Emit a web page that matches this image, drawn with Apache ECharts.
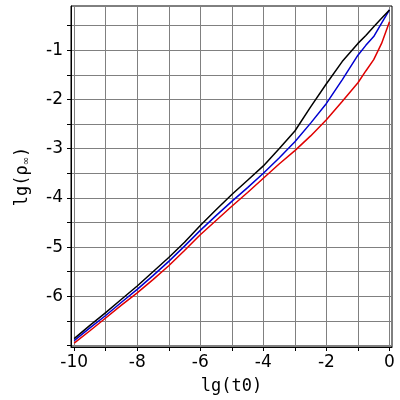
<!DOCTYPE html>
<html>
<head>
<meta charset="utf-8">
<script src="https://cdn.jsdelivr.net/npm/echarts@6/dist/echarts.min.js"></script>
<style>html,body{margin:0;padding:0;background:#fff}#c{width:400px;height:400px}</style>
</head>
<body>
<div id="c"></div>
<script>
const xs = [-10, -9.5, -9, -8.5, -8, -7.5, -7, -6.5, -6, -5.5, -5, -4.5, -4, -3.5, -3, -2.5, -2, -1.5, -1, -0.75, -0.5, -0.25, 0];
const blackY = [-6.86, -6.59, -6.33, -6.06, -5.79, -5.50, -5.21, -4.90, -4.56, -4.24, -3.93, -3.64, -3.35, -3.00, -2.64, -2.15, -1.68, -1.23, -0.86, -0.70, -0.52, -0.35, -0.18];
const blueY  = [-6.90, -6.64, -6.39, -6.12, -5.86, -5.58, -5.29, -4.98, -4.66, -4.36, -4.07, -3.79, -3.50, -3.19, -2.86, -2.48, -2.08, -1.60, -1.10, -0.90, -0.72, -0.45, -0.18];
const redY   = [-6.95, -6.70, -6.44, -6.18, -5.93, -5.66, -5.38, -5.07, -4.75, -4.46, -4.17, -3.89, -3.60, -3.31, -3.04, -2.74, -2.41, -2.04, -1.66, -1.42, -1.19, -0.86, -0.42];
const xTicks = [-10, -9, -8, -7, -6, -5, -4, -3, -2, -1, 0];
const xLabels = [-10, -8, -6, -4, -2, 0];
const yTicks = [-7, -6.5, -6, -5.5, -5, -4.5, -4, -3.5, -3, -2.5, -2, -1.5, -1, -0.5];
const yLabels = [-6, -5, -4, -3, -2, -1];

const pairs = ys => xs.map((x, i) => [x, ys[i]]);
const chart = echarts.init(document.getElementById('c'));
const gridLine = {show: true, lineStyle: {color: '#808080', width: 1}};
chart.setOption({
  animation: false,
  grid: {left: 71, right: 8, top: 6, bottom: 52, show: true, borderColor: '#000', borderWidth: 1},
  xAxis: {
    type: 'value', min: -10.1, max: 0.08, minInterval: 1, maxInterval: 1,
    axisLine: {show: true, onZero: false, lineStyle: {color: '#000', width: 1}},
    axisTick: {show: true, inside: false, length: 4, customValues: xTicks, lineStyle: {color: '#000'}},
    axisLabel: {customValues: xLabels, margin: 7, color: '#000', fontSize: 17, fontFamily: 'DejaVu Sans'},
    splitLine: gridLine,
    name: 'lg(t0)', nameLocation: 'middle', nameGap: 31,
    nameTextStyle: {color: '#000', fontSize: 17, fontFamily: 'DejaVu Sans Mono'}
  },
  yAxis: {
    type: 'value', min: -7.03, max: -0.1, minInterval: 0.5, maxInterval: 0.5,
    axisLine: {show: true, onZero: false, lineStyle: {color: '#000', width: 1}},
    axisTick: {show: true, inside: false, length: 4, customValues: yTicks, lineStyle: {color: '#000'}},
    axisLabel: {customValues: yLabels, margin: 8, color: '#000', fontSize: 17, fontFamily: 'DejaVu Sans'},
    splitLine: gridLine,
    name: '{a|lg(ρ}{b|∞}{a|)}', nameLocation: 'middle', nameGap: 40, nameRotate: 90,
    nameTextStyle: {
      color: '#000',
      rich: {
        a: {fontSize: 17, fontFamily: 'DejaVu Sans Mono', color: '#000'},
        b: {fontSize: 10, fontFamily: 'DejaVu Sans', color: '#000', verticalAlign: 'bottom', padding: [6, 0, 0, 0]}
      }
    }
  },
  series: [
    {type: 'line', data: pairs(redY), showSymbol: false, lineStyle: {color: '#e00000', width: 1.5}, z: 3},
    {type: 'line', data: pairs(blueY), showSymbol: false, lineStyle: {color: '#0000d0', width: 1.5}, z: 4},
    {type: 'line', data: pairs(blackY), showSymbol: false, lineStyle: {color: '#000000', width: 1.5}, z: 5}
  ]
});
</script>
</body>
</html>
